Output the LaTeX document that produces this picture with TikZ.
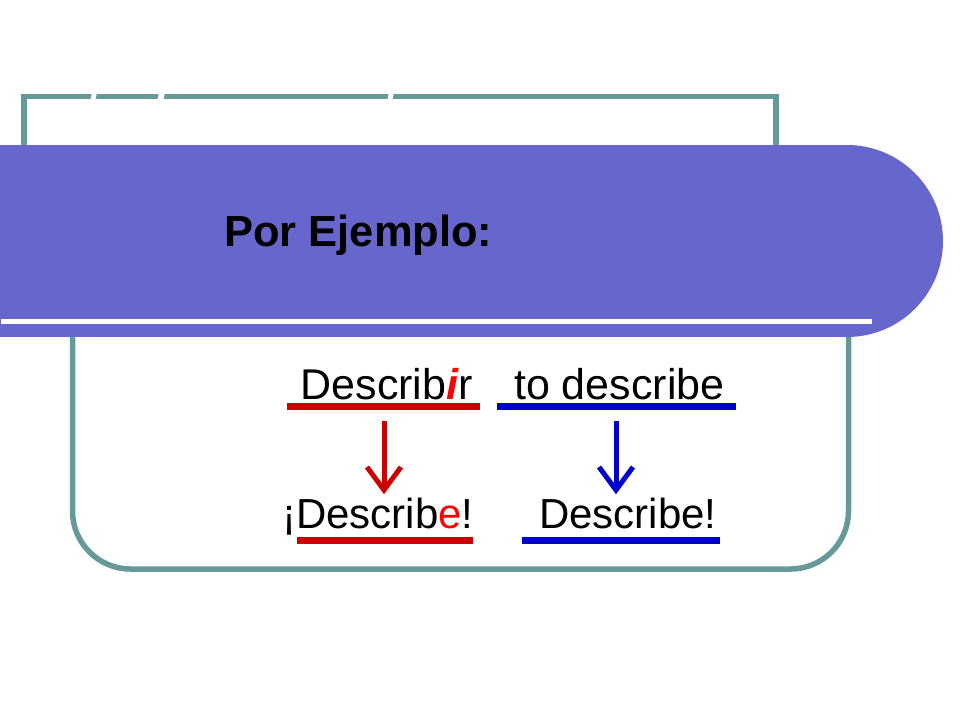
\documentclass[tikz,border=0pt]{standalone}
\usepackage{fontspec}
\setmainfont{Liberation Sans}
\usetikzlibrary{calc}
\definecolor{teal}{HTML}{669999}
\definecolor{band}{HTML}{6666CC}
\definecolor{dred}{HTML}{CC0000}
\definecolor{bred}{HTML}{FF0000}
\definecolor{dblue}{HTML}{0000CC}
\tikzset{
  frame/.style={draw=teal, line width=5.5pt},
  uline/.style={line width=7pt},
  arr/.style={line width=5pt, line join=miter},
  txt/.style={inner sep=0pt, anchor=base west, font=\fontsize{43}{50}\selectfont},
  gapw/.style={fill=white}
}
\begin{document}
\begin{tikzpicture}[x=1pt,y=-1pt]
\useasboundingbox (0,0) rectangle (960,720);
% frames
\draw[frame] (24,200) -- (24,96.7) -- (776,96.7) -- (776,200);
\draw[frame, rounded corners=58pt] (72.5,300) -- (72.5,569) -- (848.5,569) -- (848.5,300);
% white gaps in top line
\fill[gapw] (92,92) -- (97,92) -- (95,102) -- (90,102) -- cycle;
\fill[gapw] (159,92) -- (165,92) -- (163,102) -- (157,102) -- cycle;
\fill[gapw] (389,92) -- (394,92) -- (392,102) -- (387,102) -- cycle;
% band
\fill[band] (0,145) rectangle (848,337);
\fill[band] (847,241) circle[radius=96pt];
\draw[white, line width=5pt] (1,321.5) -- (872,321.5);
% title
\node[txt, font=\fontsize{43.5}{50}\selectfont\bfseries] (por) at (224,246) {Por Ejemplo:};
% words
\node[txt] (inf) at (300.5,399) {Describ\textcolor{bred}{\bfseries\itshape i}r};
\node[txt] (eng) at (514,399) {to describe};
\node[txt, font=\fontsize{42}{50}\selectfont] (cmd) at (282,528) {¡Describ\textcolor{bred}{e}!};
\node[txt, font=\fontsize{42}{50}\selectfont] (cmdE) at (539,528) {Describe!};
% underlines
\coordinate (u1a) at (287,406.5); \coordinate (u1b) at (480,406.5);
\coordinate (u2a) at (497,406.5); \coordinate (u2b) at (736,406.5);
\coordinate (u3a) at (297,540.5); \coordinate (u3b) at (473,540.5);
\coordinate (u4a) at (522,540.5); \coordinate (u4b) at (720,540.5);
\draw[uline, dred] (u1a) -- (u1b);
\draw[uline, dblue] (u2a) -- (u2b);
\draw[uline, dred] (u3a) -- (u3b);
\draw[uline, dblue] (u4a) -- (u4b);
% arrows
\coordinate (ra1) at (384,421); \coordinate (ra2) at (384,490);
\coordinate (ba1) at (616,421); \coordinate (ba2) at (616,490);
\draw[arr, dred] (ra1) -- (ra2);
\draw[arr, dred] ($(ra2)+(-17,-23)$) -- (ra2) -- ($(ra2)+(17,-23)$);
\draw[arr, dblue] (ba1) -- (ba2);
\draw[arr, dblue] ($(ba2)+(-17,-23)$) -- (ba2) -- ($(ba2)+(17,-23)$);
\end{tikzpicture}
\end{document}
